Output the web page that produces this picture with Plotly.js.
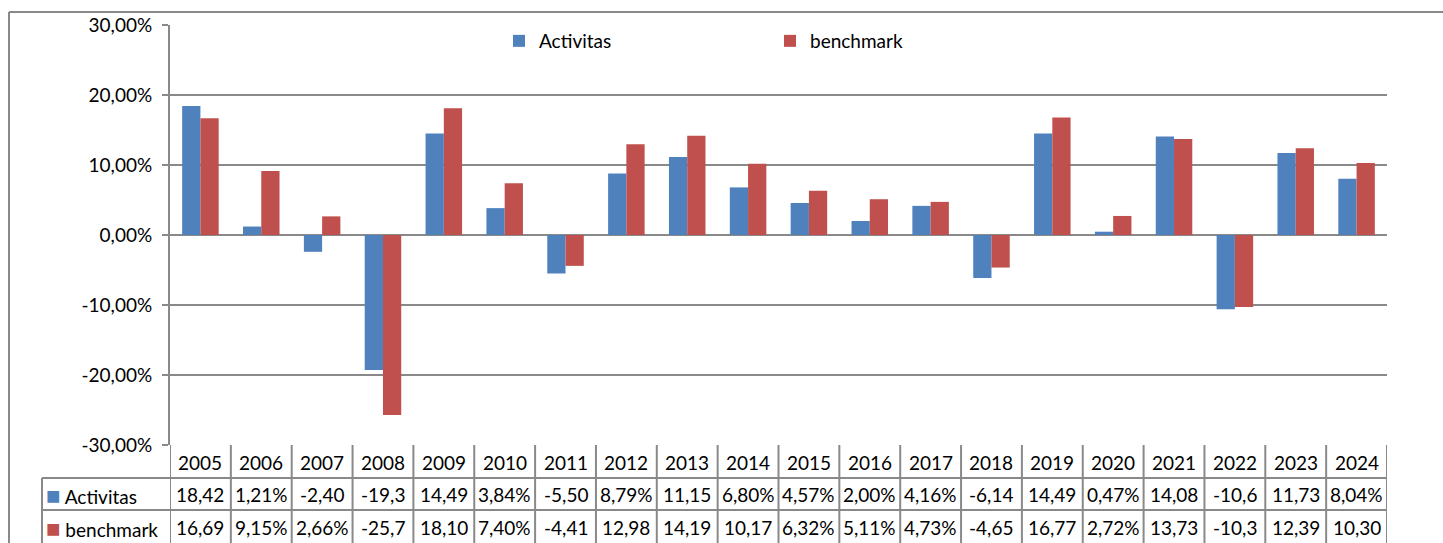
<!DOCTYPE html>
<html>
<head>
<meta charset="utf-8">
<script src="https://cdn.plot.ly/plotly-3.0.1.min.js"></script>
<style>
  html, body { margin: 0; padding: 0; background: #fff; }
  #chart { width: 1443px; height: 543px; }
</style>
</head>
<body>
<div id="chart"></div>
<script>
const years = ['2005','2006','2007','2008','2009','2010','2011','2012','2013','2014',
               '2015','2016','2017','2018','2019','2020','2021','2022','2023','2024'];
const activitas = [18.42, 1.21, -2.40, -19.30, 14.49, 3.84, -5.50, 8.79, 11.15, 6.80,
                   4.57, 2.00, 4.16, -6.14, 14.49, 0.47, 14.08, -10.60, 11.73, 8.04];
const benchmark = [16.69, 9.15, 2.66, -25.70, 18.10, 7.40, -4.41, 12.98, 14.19, 10.17,
                   6.32, 5.11, 4.73, -4.65, 16.77, 2.72, 13.73, -10.30, 12.39, 10.30];
// labels as printed in the data table (cut off by the cell width)
const activitasLabels = ['18,42','1,21%','-2,40','-19,3','14,49','3,84%','-5,50','8,79%','11,15','6,80%',
                         '4,57%','2,00%','4,16%','-6,14','14,49','0,47%','14,08','-10,6','11,73','8,04%'];
const benchmarkLabels = ['16,69','9,15%','2,66%','-25,7','18,10','7,40%','-4,41','12,98','14,19','10,17',
                         '6,32%','5,11%','4,73%','-4,65','16,77','2,72%','13,73','-10,3','12,39','10,30'];
const yTicks = [-30, -20, -10, 0, 10, 20, 30];
const yTickText = ['-30,00%','-20,00%','-10,00%','0,00%','10,00%','20,00%','30,00%'];

const W = 1443, H = 543;
const blue = '#4F81BD', red = '#C0504D', grid = '#898989';
const font = 'Lato, "Liberation Sans", sans-serif';
const py = p => 1 - p / H;   // pixel row -> paper y
const px = p => p / W;       // pixel col -> paper x

const yBottom = py(445), yTop = py(25);
const rowY = [py(462), py(494), py(527)];

const data = [
  {x: years, y: activitas, type: 'bar', name: 'Activitas', marker: {color: blue}},
  {x: years, y: benchmark, type: 'bar', name: 'benchmark', marker: {color: red}}
];

const shapes = [];
const line = {color: grid, width: 2};
// outer chart frame
shapes.push({type: 'line', xref: 'paper', yref: 'paper', x0: px(9), x1: 1, y0: py(12), y1: py(12), line: line});
shapes.push({type: 'line', xref: 'paper', yref: 'paper', x0: px(9), x1: px(9), y0: py(12), y1: 0, line: line});
// table vertical lines at category boundaries
for (let i = 0; i <= years.length; i++) {
  shapes.push({type: 'line', xref: 'x', yref: 'paper', x0: i - 0.5, x1: i - 0.5, y0: yBottom, y1: 0, line: line});
}
// table row lines (legend column included)
[py(478), py(510)].forEach(y => {
  shapes.push({type: 'line', xref: 'paper', yref: 'paper', x0: px(42), x1: px(1387), y0: y, y1: y, line: line});
});
shapes.push({type: 'line', xref: 'paper', yref: 'paper', x0: px(42), x1: px(42), y0: py(478), y1: 0, line: line});

const annotations = [];
const cellFont = {family: font, size: 19, color: '#000'};
const cell = (x, y, text) => ({xref: 'x', yref: 'paper', x: x, y: y, text: text,
  xanchor: 'center', yanchor: 'middle', showarrow: false, font: cellFont});
years.forEach((yr, i) => {
  // category index i puts the cell under its bar group
  annotations.push(cell(i, rowY[0], yr));
  annotations.push(cell(i, rowY[1], activitasLabels[i]));
  annotations.push(cell(i, rowY[2], benchmarkLabels[i]));
});
annotations.push({xref: 'paper', yref: 'paper', x: px(44), y: rowY[1], xanchor: 'left', yanchor: 'middle',
  showarrow: false, font: cellFont,
  text: '<span style="color:' + blue + ';font-size:24px">■</span> Activitas'});
annotations.push({xref: 'paper', yref: 'paper', x: px(44), y: rowY[2], xanchor: 'left', yanchor: 'middle',
  showarrow: false, font: cellFont,
  text: '<span style="color:' + red + ';font-size:24px">■</span> benchmark'});

const layout = {
  width: W, height: H,
  margin: {l: 0, r: 0, t: 0, b: 0},
  paper_bgcolor: '#fff', plot_bgcolor: '#fff',
  font: {family: font, size: 19, color: '#000'},
  bargap: 0.4, bargroupgap: 0,
  barmode: 'group',
  xaxis: {
    type: 'category',
    domain: [px(170), px(1387)],
    range: [-0.5, years.length - 0.5],
    showticklabels: false, showgrid: false, zeroline: false, showline: false, ticks: ''
  },
  yaxis: {
    domain: [yBottom, yTop],
    range: [-30, 30],
    tickmode: 'array', tickvals: yTicks, ticktext: yTickText,
    showgrid: true, gridcolor: grid, gridwidth: 2,
    zeroline: false, showline: true, linecolor: grid, linewidth: 2,
    ticks: 'outside', ticklen: 6, tickcolor: grid, tickwidth: 2,
    ticklabelstandoff: 6,
    tickfont: {family: font, size: 19, color: '#000'}
  },
  showlegend: true,
  legend: {
    orientation: 'h', x: px(499), y: py(22), xanchor: 'left', yanchor: 'top',
    entrywidth: 226, entrywidthmode: 'pixels',
    font: {family: font, size: 19, color: '#000'},
    bgcolor: 'rgba(0,0,0,0)'
  },
  shapes: shapes,
  annotations: annotations
};

Plotly.newPlot('chart', data, layout, {displayModeBar: false, staticPlot: true});
</script>
</body>
</html>
